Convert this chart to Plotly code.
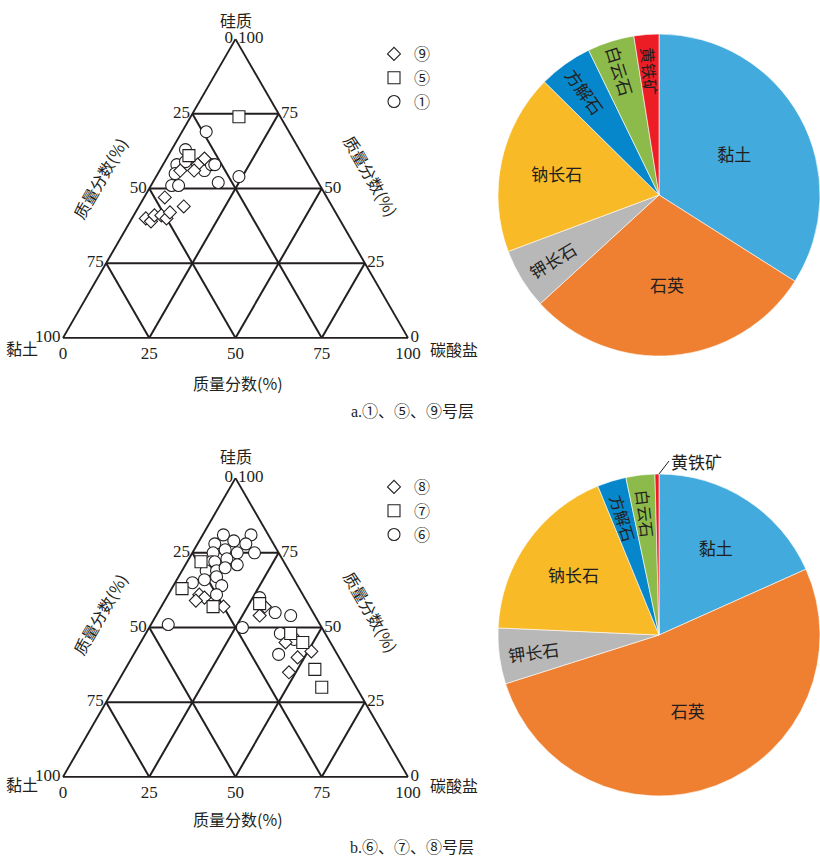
import math
import plotly.graph_objects as go

# ---------------- ternary compositions, mass fraction (%) ----------------
# order of each point: 硅质 (top), 黏土 (bottom-left), 碳酸盐 (bottom-right)

# a: layers ①, ⑤, ⑨
l1_si = [69, 63, 58, 55, 51, 51, 56, 58, 58, 52, 54, 59]
l1_cl = [24, 33, 38, 40, 43, 41, 31, 28, 27, 29, 22, 35]
l1_ca = [7, 4, 4, 5, 6, 8, 13, 14, 15, 19, 24, 6]

l5_si = [74, 61]
l5_cl = [12, 33]
l5_ca = [14, 6]

l9_si = [60, 58, 56, 56, 47, 44, 40, 39, 41, 41, 40, 42]
l9_cl = [29, 32, 34, 38, 47, 43, 56, 55, 53, 51, 50, 48]
l9_ca = [11, 10, 10, 6, 6, 13, 4, 6, 6, 8, 10, 10]

# b: layers ⑥, ⑦, ⑧
l6_si = [81, 81, 78, 79, 78, 76, 75, 75, 75, 72, 72, 73, 71, 69, 69, 70, 65, 66,
         67, 64, 61, 60, 55, 54, 51, 50, 48, 48, 46, 41]
l6_cl = [13, 5, 17, 11, 8, 15, 19, 12, 7, 21, 20, 16, 14, 24, 21, 18, 30, 26,
         22, 22, 25, 13, 11, 7, 44, 23, 13, 10, 10, 17]
l6_ca = [6, 14, 5, 10, 14, 9, 6, 13, 18, 7, 8, 11, 15, 7, 10, 12, 5, 8,
         11, 14, 14, 27, 34, 39, 5, 27, 39, 42, 44, 42]

l7_si = [72, 63, 57, 58, 48, 45, 36, 30]
l7_cl = [24, 34, 28, 14, 10, 8, 9, 10]
l7_ca = [4, 3, 15, 28, 42, 47, 55, 60]

l8_si = [61, 60, 59, 57, 54, 45, 40, 42, 35, 57]
l8_cl = [30, 29, 32, 25, 16, 13, 12, 7, 17, 13]
l8_ca = [9, 11, 9, 18, 30, 42, 48, 51, 48, 30]

# ---------------- mineral composition pies (%) ----------------
minerals = ["黏土", "石英", "钾长石", "钠长石", "方解石", "白云石", "黄铁矿"]
pie_a = [34.0, 29.2, 6.1, 18.1, 5.4, 4.7, 2.5]
pie_b = [18.3, 51.8, 5.6, 18.1, 2.9, 2.9, 0.4]
mineral_colors = ["#42AADD", "#EF8031", "#B8B8B8", "#F8BA26", "#0787CB", "#8DBB4B", "#EC1D25"]

tick_vals = [0, 25, 50, 75, 100]
tick_text = [str(100 - v) for v in tick_vals]

INK = "#231F20"
SERIF = "Liberation Serif, Noto Sans CJK SC"
CJK = "Noto Sans CJK SC"
W, H = 820, 856
PIE_FONT = 17
THIN_SLICE = 4.0   # slices narrower than this (%) get a full-size radial label


def px_x(v):
    return v / W


def px_y(v):
    return 1 - v / H


fig = go.Figure()


def add_layer(si, cl, ca, symbol, size, name, subplot, legend, rank):
    fig.add_trace(go.Scatterternary(
        a=si, b=cl, c=ca, mode="markers", name=name,
        subplot=subplot, legend=legend, legendrank=rank,
        marker=dict(symbol=symbol, size=size, color="white",
                    line=dict(color=INK, width=1.1)),
        cliponaxis=False,
    ))


# a panel
add_layer(l1_si, l1_cl, l1_ca, "circle", 12, "①", "ternary", "legend", 3)
add_layer(l9_si, l9_cl, l9_ca, "diamond", 10, "⑨", "ternary", "legend", 1)
add_layer(l5_si, l5_cl, l5_ca, "square", 12, "⑤", "ternary", "legend", 2)
# b panel
add_layer(l6_si, l6_cl, l6_ca, "circle", 12, "⑥", "ternary2", "legend2", 3)
add_layer(l8_si, l8_cl, l8_ca, "diamond", 10, "⑧", "ternary2", "legend2", 1)
add_layer(l7_si, l7_cl, l7_ca, "square", 12, "⑦", "ternary2", "legend2", 2)

# pies
pie_a_dom = dict(x=[px_x(498), 1.0], y=[px_y(356), px_y(34)])
pie_b_dom = dict(x=[px_x(498), 1.0], y=[px_y(796), px_y(474)])

annotations = []


def pie_trace(values, dom, skip_pyrite):
    total = sum(values)
    text = []
    for m, v in zip(minerals, values):
        if (skip_pyrite and m == "黄铁矿") or 100 * v / total < THIN_SLICE:
            text.append("")
        else:
            text.append(m)
    fig.add_trace(go.Pie(
        labels=minerals, values=values, sort=False, direction="clockwise", rotation=0,
        marker=dict(colors=mineral_colors, line=dict(color="white", width=0.6)),
        text=text, textinfo="text", textposition="inside", insidetextorientation="auto",
        textfont=dict(family=CJK, size=PIE_FONT, color=INK),
        domain=dom, showlegend=False, hoverinfo="label+percent",
    ))


def thin_slice_labels(values, dom, skip_pyrite, rfrac):
    # radial labels for narrow slices, reading from the rim toward the centre
    total = sum(values)
    w = (dom["x"][1] - dom["x"][0]) * W
    h = (dom["y"][1] - dom["y"][0]) * H
    r = min(w, h) / 2
    cx = (dom["x"][0] + dom["x"][1]) / 2
    cy = (dom["y"][0] + dom["y"][1]) / 2
    start = 0.0
    for m, v in zip(minerals, values):
        share = v / total
        mid = (start + share / 2) * 2 * math.pi
        start += share
        if 100 * share >= THIN_SLICE or (skip_pyrite and m == "黄铁矿"):
            continue
        s, c = math.sin(mid), math.cos(mid)
        angle = math.degrees(math.atan2(c, -s))
        annotations.append(dict(
            text=m, x=cx + rfrac * r * s / W, y=cy + rfrac * r * c / H,
            xref="paper", yref="paper", showarrow=False, textangle=angle,
            xanchor="center", yanchor="middle",
            font=dict(family=CJK, size=PIE_FONT - 1, color=INK),
        ))


pie_trace(pie_a, pie_a_dom, False)
pie_trace(pie_b, pie_b_dom, True)
thin_slice_labels(pie_a, pie_a_dom, False, 0.77)
thin_slice_labels(pie_b, pie_b_dom, True, 0.76)


def tern_axis():
    return dict(
        title=dict(text=""), min=0,
        tickmode="array", tickvals=tick_vals, ticktext=tick_text, ticks="",
        tickfont=dict(family=SERIF, size=17, color=INK),
        showgrid=True, gridcolor=INK, gridwidth=1.7,
        showline=True, linecolor=INK, linewidth=1.9,
    )


def ternary_layout(top_px, bottom_px):
    return dict(
        sum=100, bgcolor="white",
        domain=dict(x=[px_x(63), px_x(408)], y=[px_y(bottom_px), px_y(top_px)]),
        aaxis=tern_axis(), baxis=tern_axis(), caxis=tern_axis(),
    )


def legend_box(top_px):
    return dict(
        x=px_x(374), y=px_y(top_px), xanchor="left", yanchor="top",
        font=dict(family=CJK, size=16, color=INK), bgcolor="rgba(0,0,0,0)",
        itemwidth=30, tracegroupgap=0, traceorder="normal",
    )


def note(text, x, y, size=16, angle=0, xanchor="center", family=SERIF):
    annotations.append(dict(
        text=text, x=px_x(x), y=px_y(y), xref="paper", yref="paper",
        showarrow=False, textangle=angle, xanchor=xanchor, yanchor="middle",
        font=dict(family=family, size=size, color=INK),
    ))


for dy, caption in [(0, "a.①、⑤、⑨号层"), (436, "b.⑥、⑦、⑧号层")]:
    note("硅质", 236, 20 + dy, family=CJK)
    note("黏土", 22, 348 + dy, family=CJK)
    note("碳酸盐", 428, 349 + dy, xanchor="left", family=CJK)
    note("质量分数(%)", 238, 383 + dy, family=CJK)
    note("质量分数(%)", 100, 178 + dy, angle=-60, family=CJK)
    note("质量分数(%)", 371, 176 + dy, angle=60, family=CJK)
    note(caption, 412, 411 + dy)

# pyrite label of the b pie, led out from the top of its thin slice
pie_cx = (pie_b_dom["x"][0] + pie_b_dom["x"][1]) / 2
annotations.append(dict(
    text="黄铁矿", x=pie_cx, y=pie_b_dom["y"][1], xref="paper", yref="paper",
    showarrow=True, arrowhead=0, arrowwidth=1, arrowcolor=INK, standoff=0,
    ax=10, ay=-13, xanchor="left", yanchor="middle",
    font=dict(family=CJK, size=PIE_FONT, color=INK),
))

fig.update_layout(
    width=W, height=H, autosize=False,
    margin=dict(l=0, r=0, t=0, b=0),
    paper_bgcolor="white", plot_bgcolor="white",
    ternary=ternary_layout(39, 338),
    ternary2=ternary_layout(478, 777),
    legend=legend_box(37),
    legend2=legend_box(470),
    annotations=annotations,
    font=dict(family=SERIF, color=INK),
)

fig.write_html("out.html")
